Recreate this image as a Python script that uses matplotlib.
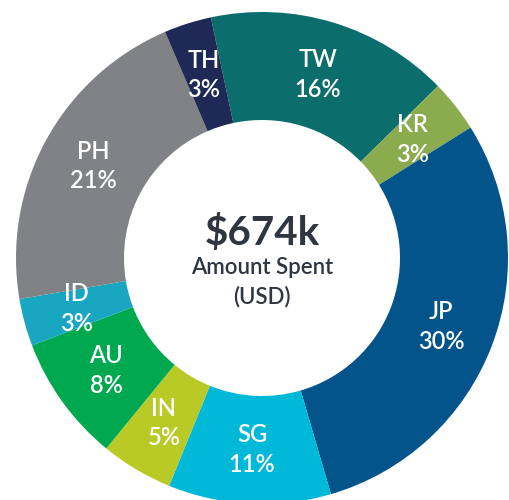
import numpy as np
import matplotlib
matplotlib.use("Agg")
import matplotlib.pyplot as plt

plt.rcParams["font.family"] = ["Lato", "DejaVu Sans"]

# spend by country, in $k (clockwise from TW)
countries = ["TW", "KR", "JP", "SG", "IN", "AU", "ID", "PH", "TH"]
spend_k = [108, 23, 198, 72, 32, 56, 21, 143, 21]
pct_labels = ["16%", "3%", "30%", "11%", "5%", "8%", "3%", "21%", "3%"]
colors = ["#0b6e6c", "#8aab4e", "#02548b", "#00b8d8", "#b9c925",
          "#00a84f", "#19a6c0", "#818285", "#1e2a55"]

total_label = "$674k"

W, H = 510, 500
CX, CY = 262, 500 - 258
R_OUT, R_IN = 246, 138

fig = plt.figure(figsize=(W / 100, H / 100), dpi=100)
ax = fig.add_axes([0, 0, 1, 1])

wedges, _ = ax.pie(spend_k, colors=colors, startangle=102, counterclock=False,
                   center=(CX, CY), radius=R_OUT,
                   wedgeprops=dict(width=R_OUT - R_IN, linewidth=0))

r_lab = (R_OUT + R_IN) / 2
for w, name, pct in zip(wedges, countries, pct_labels):
    ang = np.deg2rad((w.theta1 + w.theta2) / 2)
    x = CX + r_lab * np.cos(ang)
    y = CY + r_lab * np.sin(ang)
    ax.text(x, y, f"{name}\n{pct}", ha="center", va="center", color="white",
            fontsize=17, fontweight="semibold", linespacing=1.35)

ax.text(CX, 500 - 233, total_label, ha="center", va="center",
        color="#2f3640", fontsize=29, fontweight="bold")
ax.text(CX, 500 - 268, "Amount Spent", ha="center", va="center",
        color="#2f3640", fontsize=16, fontweight="semibold")
ax.text(CX, 500 - 297, "(USD)", ha="center", va="center",
        color="#2f3640", fontsize=16, fontweight="semibold")

ax.set_xlim(0, W)
ax.set_ylim(0, H)
ax.set_aspect("equal")
ax.axis("off")

fig.savefig("out.png", dpi=100, facecolor="white")
